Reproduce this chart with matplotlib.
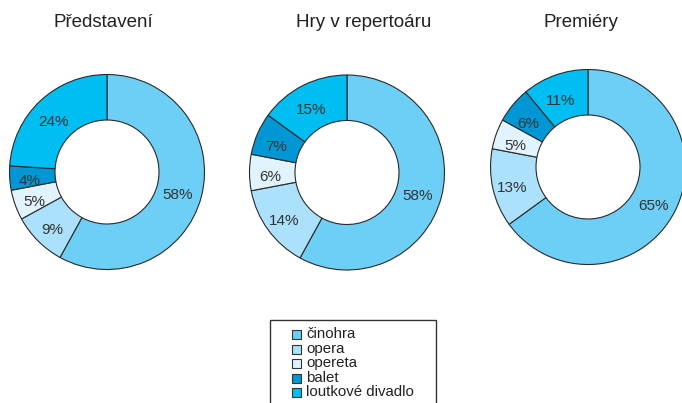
import matplotlib
matplotlib.use("Agg")
import matplotlib.pyplot as plt
from matplotlib.patches import Rectangle

plt.rcParams['font.family'] = ['Liberation Sans', 'DejaVu Sans']

categories = ["činohra", "opera", "opereta", "balet", "loutkové divadlo"]
colors = ["#6dcff6", "#abe1fa", "#e1f4fd", "#0097d4", "#00bdf2"]
titles = ["Představení", "Hry v repertoáru", "Premiéry"]
predstaveni = [58, 9, 5, 4, 24]
hry = [58, 14, 6, 7, 15]
premiery = [65, 13, 5, 6, 11]
series = [predstaveni, hry, premiery]

W, H = 682, 403
fig = plt.figure(figsize=(W / 100, H / 100), dpi=100)
ax = fig.add_axes([0, 0, 1, 1])

centers = [(107, H - 172), (347, H - 172.5), (588, H - 167)]
title_x = [103.5, 364, 581]
R = 97.5
ring = 45.5

for vals, c, tx, t in zip(series, centers, title_x, titles):
    wedges, texts = ax.pie(
        vals, colors=colors, startangle=90, counterclock=False,
        center=c, radius=R, labels=[f"{v}%" for v in vals],
        labeldistance=(R - ring / 2) / R + 0.005,
        wedgeprops=dict(width=ring, edgecolor="#2a2a2a", linewidth=0.8),
        textprops=dict(fontsize=11, color="#333333", ha="center", va="center"),
        frame=True,
    )
    for tt in texts:
        tt.set_ha("center")
        tt.set_va("center")
        x, y = tt.get_position()
        tt.set_position((x - 2, y - 4.5))
    ax.text(tx, H - 27, t, fontsize=13.5, color="#222222", ha="center",
            va="baseline")

# legend
ax.add_patch(Rectangle((270, H - 420), 166, 100, facecolor="white",
                       edgecolor="#333333", linewidth=1.0, zorder=3))
row_y = [334, 349.5, 363.5, 378, 392.5]
for cat, col, y in zip(categories, colors, row_y):
    ax.add_patch(Rectangle((292, H - y - 4.5), 9, 9, facecolor=col,
                           edgecolor="#333333", linewidth=0.8, zorder=4))
    ax.text(306, H - y, cat, fontsize=10.8, color="#222222", ha="left",
            va="center", zorder=5)

ax.set_xlim(0, W)
ax.set_ylim(0, H)
ax.set_aspect("equal")
ax.axis("off")
fig.savefig("out.png", dpi=100)
